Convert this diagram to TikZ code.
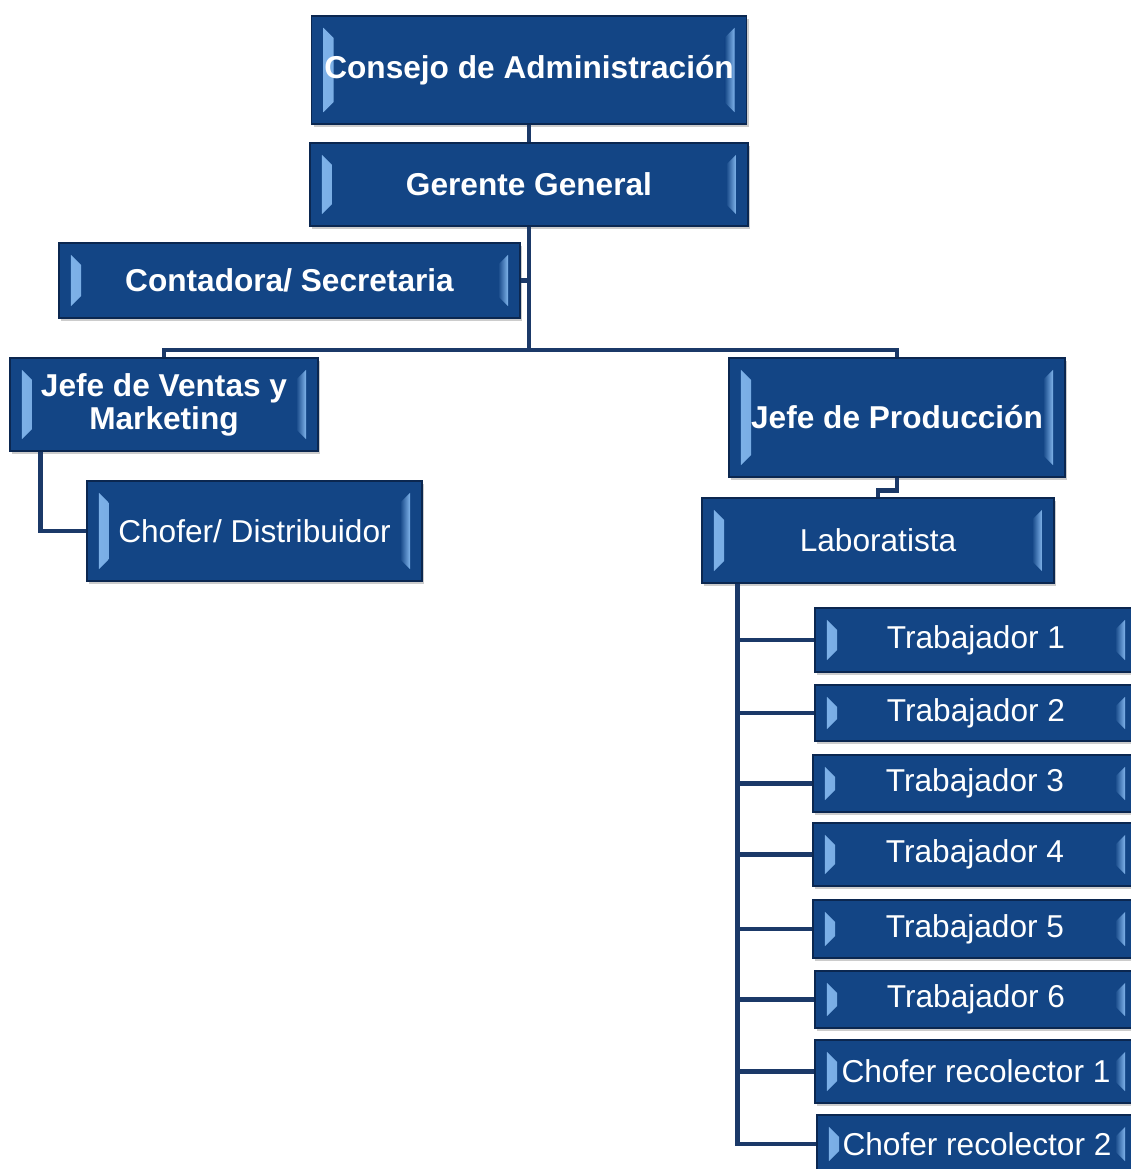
\documentclass[tikz,border=0pt]{standalone}
\usepackage{fontspec}
\setmainfont{Liberation Sans}
\usetikzlibrary{calc,shadows}
\definecolor{azulcaja}{RGB}{19,69,133}
\definecolor{azulborde}{RGB}{11,39,80}
\definecolor{azullinea}{RGB}{27,57,104}
\definecolor{azulclaro}{RGB}{128,180,235}
\tikzset{
  cargo/.style={shape=rectangle,draw=azulborde,fill=azulcaja,line width=1pt,text=white,align=center,inner sep=0pt,
    font=\fontsize{18}{18.7}\selectfont,
    drop shadow={shadow xshift=1.2pt,shadow yshift=-1.8pt,opacity=0.4},
    path picture={
      \fill[left color=azulclaro,right color=azulcaja]
        ([shift={(6.8pt,-6.8pt)}]path picture bounding box.north west) --
        ([shift={(12.5pt,-12.5pt)}]path picture bounding box.north west) --
        ([shift={(12.5pt,12.5pt)}]path picture bounding box.south west) --
        ([shift={(6.8pt,6.8pt)}]path picture bounding box.south west) -- cycle;
      \fill[left color=azulcaja,right color=azulclaro]
        ([shift={(-6.8pt,-6.8pt)}]path picture bounding box.north east) --
        ([shift={(-12.5pt,-12.5pt)}]path picture bounding box.north east) --
        ([shift={(-12.5pt,12.5pt)}]path picture bounding box.south east) --
        ([shift={(-6.8pt,6.8pt)}]path picture bounding box.south east) -- cycle;
    }},
  jefe/.style={cargo,font=\fontsize{18}{18.7}\bfseries\selectfont},
  linea/.style={draw=azullinea,line width=2.8pt}
}

\begin{document}
\begin{tikzpicture}[x=0.02cm,y=-0.02cm]
    \useasboundingbox (0,0) rectangle (1131,1169);
    \clip (0,0) rectangle (1131,1169);
    % cargos directivos
    \node (consejo) [jefe,minimum width=8.7cm,minimum height=2.16cm] at (529,70) {Consejo de Administración};
    \node (gerente) [jefe,minimum width=8.76cm,minimum height=1.66cm] at (529,184.5) {Gerente General};
    \node (contadora) [jefe,minimum width=9.22cm,minimum height=1.5cm] at (289.5,280.5) {Contadora/ Secretaria};
    \node (ventas) [jefe,minimum width=6.16cm,minimum height=1.86cm] at (164,404.5) {Jefe de Ventas y\\Marketing};
    \node (produccion) [jefe,minimum width=6.72cm,minimum height=2.38cm] at (897,417.5) {Jefe de Producción};
    % personal
    \node (chofer) [cargo,minimum width=6.7cm,minimum height=2cm] at (254.5,531) {Chofer/ Distribuidor};
    \node (laboratista) [cargo,minimum width=7.04cm,minimum height=1.7cm] at (878,540.5) {Laboratista};
    \node (t1) [cargo,minimum width=6.44cm,minimum height=1.28cm] at (976,640) {Trabajador 1};
    \node (t2) [cargo,minimum width=6.44cm,minimum height=1.12cm] at (976,713) {Trabajador 2};
    \node (t3) [cargo,minimum width=6.48cm,minimum height=1.14cm] at (975,783.5) {Trabajador 3};
    \node (t4) [cargo,minimum width=6.48cm,minimum height=1.26cm] at (975,854.5) {Trabajador 4};
    \node (t5) [cargo,minimum width=6.48cm,minimum height=1.16cm] at (975,929) {Trabajador 5};
    \node (t6) [cargo,minimum width=6.44cm,minimum height=1.14cm] at (976,999.5) {Trabajador 6};
    \node (rec1) [cargo,minimum width=6.44cm,minimum height=1.26cm] at (976,1071.5) {Chofer recolector 1};
    \node (rec2) [cargo,minimum width=6.4cm,minimum height=1.16cm] at (977,1144) {Chofer recolector 2};
    % lineas
    \coordinate (barra) at (529,350);
    \draw [linea] (consejo.south) -- (gerente.north);
    \draw [linea] (gerente.south) -- (barra);
    \draw [linea] (contadora.east) -- (contadora.east -| barra);
    \draw [linea] (ventas.north) |- (barra) -| (produccion.north);
    \draw [linea] ($(ventas.south west)+(31,0)$) |- (chofer.west);
    \draw [linea] (produccion.south) -- ++(0,13) -| (laboratista.north);
    \foreach \n in {t1,t2,t3,t4,t5,t6,rec1,rec2}
        \draw [linea] ($(laboratista.south west)+(36,0)$) |- (\n.west);
\end{tikzpicture}
\end{document}
